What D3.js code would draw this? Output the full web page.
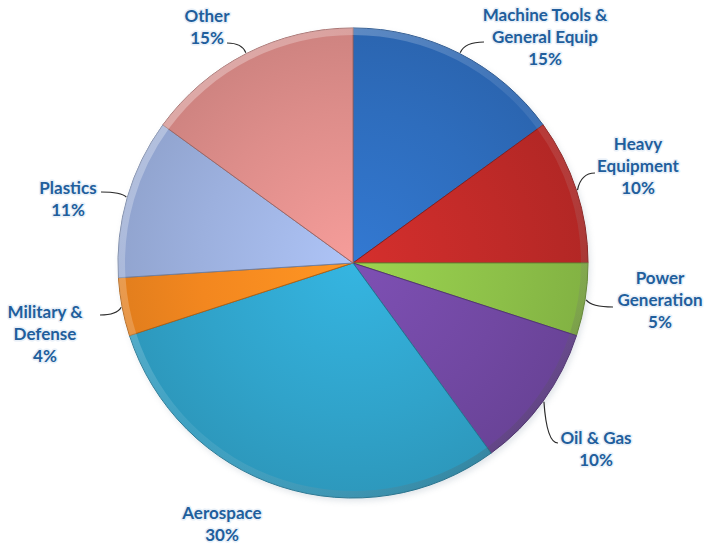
<!DOCTYPE html>
<html>
<head>
<meta charset="utf-8">
<script src="https://cdn.jsdelivr.net/npm/d3@7"></script>
<style>
  html, body { margin: 0; padding: 0; background: #ffffff; }
  svg { display: block; }
  .lbl { font-family: Lato, "Open Sans", sans-serif; font-weight: 700; font-size: 17px;
         fill: #215e9c; stroke: #e6eef7; stroke-width: 3px; stroke-opacity: 0.9;
         paint-order: stroke; stroke-linejoin: round; }
</style>
</head>
<body>
<script>
// Industry share of demand, clockwise from 12 o'clock
const categories = ["Machine Tools & General Equip", "Heavy Equipment", "Power Generation",
                    "Oil & Gas", "Aerospace", "Military & Defense", "Plastics", "Other"];
const shares = [15, 10, 5, 10, 30, 4, 11, 15];
const labelLines = [
  ["Machine Tools &", "General Equip"],
  ["Heavy", "Equipment"],
  ["Power", "Generation"],
  ["Oil & Gas"],
  ["Aerospace"],
  ["Military &", "Defense"],
  ["Plastics"],
  ["Other"]
];
const sliceColors = ["#2e6dbd", "#bf2a28", "#8cbf48", "#7148a2", "#30a3ca", "#f3871f", "#9cb0de", "#dd8d8a"];

// Layout: label anchors (x of centre, y of first baseline) and leader end points
const labelAnchors = [[545, 21], [638, 150], [660, 284], [596, 444], [222, 519], [45, 318], [68, 194], [207, 22]];
const leaderTargets = [[484, 42], [595, 173], [613, 307], [558, 443], null, [100, 315], [101, 192], [227, 43]];

const W = 722, H = 544;
const cx = 353, cy = 263, R = 235;

const svg = d3.select("body").append("svg").attr("width", W).attr("height", H);
const defs = svg.append("defs");

const pie = d3.pie().value(d => d).sort(null);
const arcs = pie(shares);
const arc = d3.arc().innerRadius(0).outerRadius(R);

// radial shading per slice: lighter towards the hub (pie-local coordinates)
sliceColors.forEach((c, i) => {
  const g = defs.append("radialGradient").attr("id", "g" + i)
    .attr("gradientUnits", "userSpaceOnUse").attr("cx", 0).attr("cy", 0).attr("r", R);
  g.append("stop").attr("offset", "0%").attr("stop-color", d3.color(c).brighter(0.3));
  g.append("stop").attr("offset", "65%").attr("stop-color", c);
  g.append("stop").attr("offset", "100%").attr("stop-color", d3.color(c).darker(0.2));
});

// bevel light: bright top-left, dark bottom-right
const bev = defs.append("linearGradient").attr("id", "bevel")
  .attr("gradientUnits", "userSpaceOnUse")
  .attr("x1", -R).attr("y1", -R).attr("x2", R).attr("y2", R);
bev.append("stop").attr("offset", "0%").attr("stop-color", "#ffffff").attr("stop-opacity", 0.4);
bev.append("stop").attr("offset", "50%").attr("stop-color", "#ffffff").attr("stop-opacity", 0.08);
bev.append("stop").attr("offset", "100%").attr("stop-color", "#000000").attr("stop-opacity", 0.3);

const soft = defs.append("filter").attr("id", "soft").attr("x", "-20%").attr("y", "-20%")
  .attr("width", "140%").attr("height", "140%");
soft.append("feGaussianBlur").attr("stdDeviation", 3);

const root = svg.append("g").attr("transform", `translate(${cx},${cy})`);

// faint shadow under the pie
root.append("circle").attr("cx", 2).attr("cy", 3).attr("r", R).attr("fill", "#b8c2cc").attr("opacity", 0.45)
  .attr("filter", "url(#soft)");

root.selectAll("path.slice").data(arcs).join("path")
  .attr("class", "slice")
  .attr("d", arc)
  .attr("fill", (d, i) => `url(#g${i})`)
  .attr("stroke", (d, i) => d3.color(sliceColors[i]).darker(0.9))
  .attr("stroke-width", 1)
  .attr("stroke-linejoin", "round");

// rim bevel ring on each slice
const rim = d3.arc().innerRadius(R - 7).outerRadius(R);
root.selectAll("path.rim").data(arcs).join("path")
  .attr("class", "rim")
  .attr("d", rim)
  .attr("fill", "url(#bevel)");

// leader lines from the rim midpoint to each label
arcs.forEach((d, i) => {
  const t = leaderTargets[i];
  if (!t) return;
  const a = (d.startAngle + d.endAngle) / 2;
  const sx = cx + Math.sin(a) * (R + 1), sy = cy - Math.cos(a) * (R + 1);
  svg.append("path")
    .attr("d", `M${sx},${sy} Q${sx + (t[0] - sx) * 0.2},${t[1]} ${t[0]},${t[1]}`)
    .attr("fill", "none").attr("stroke", "#2b2b2b").attr("stroke-width", 1.2);
});

// labels with the percentage on the last line
arcs.forEach((d, i) => {
  const [x, y] = labelAnchors[i];
  const lines = labelLines[i].concat([shares[i] + "%"]);
  const t = svg.append("text").attr("class", "lbl").attr("text-anchor", "middle")
    .attr("x", x).attr("y", y);
  lines.forEach((s, k) => {
    t.append("tspan").attr("x", x).attr("dy", k === 0 ? 0 : 22).text(s);
  });
});
</script>
</body>
</html>
